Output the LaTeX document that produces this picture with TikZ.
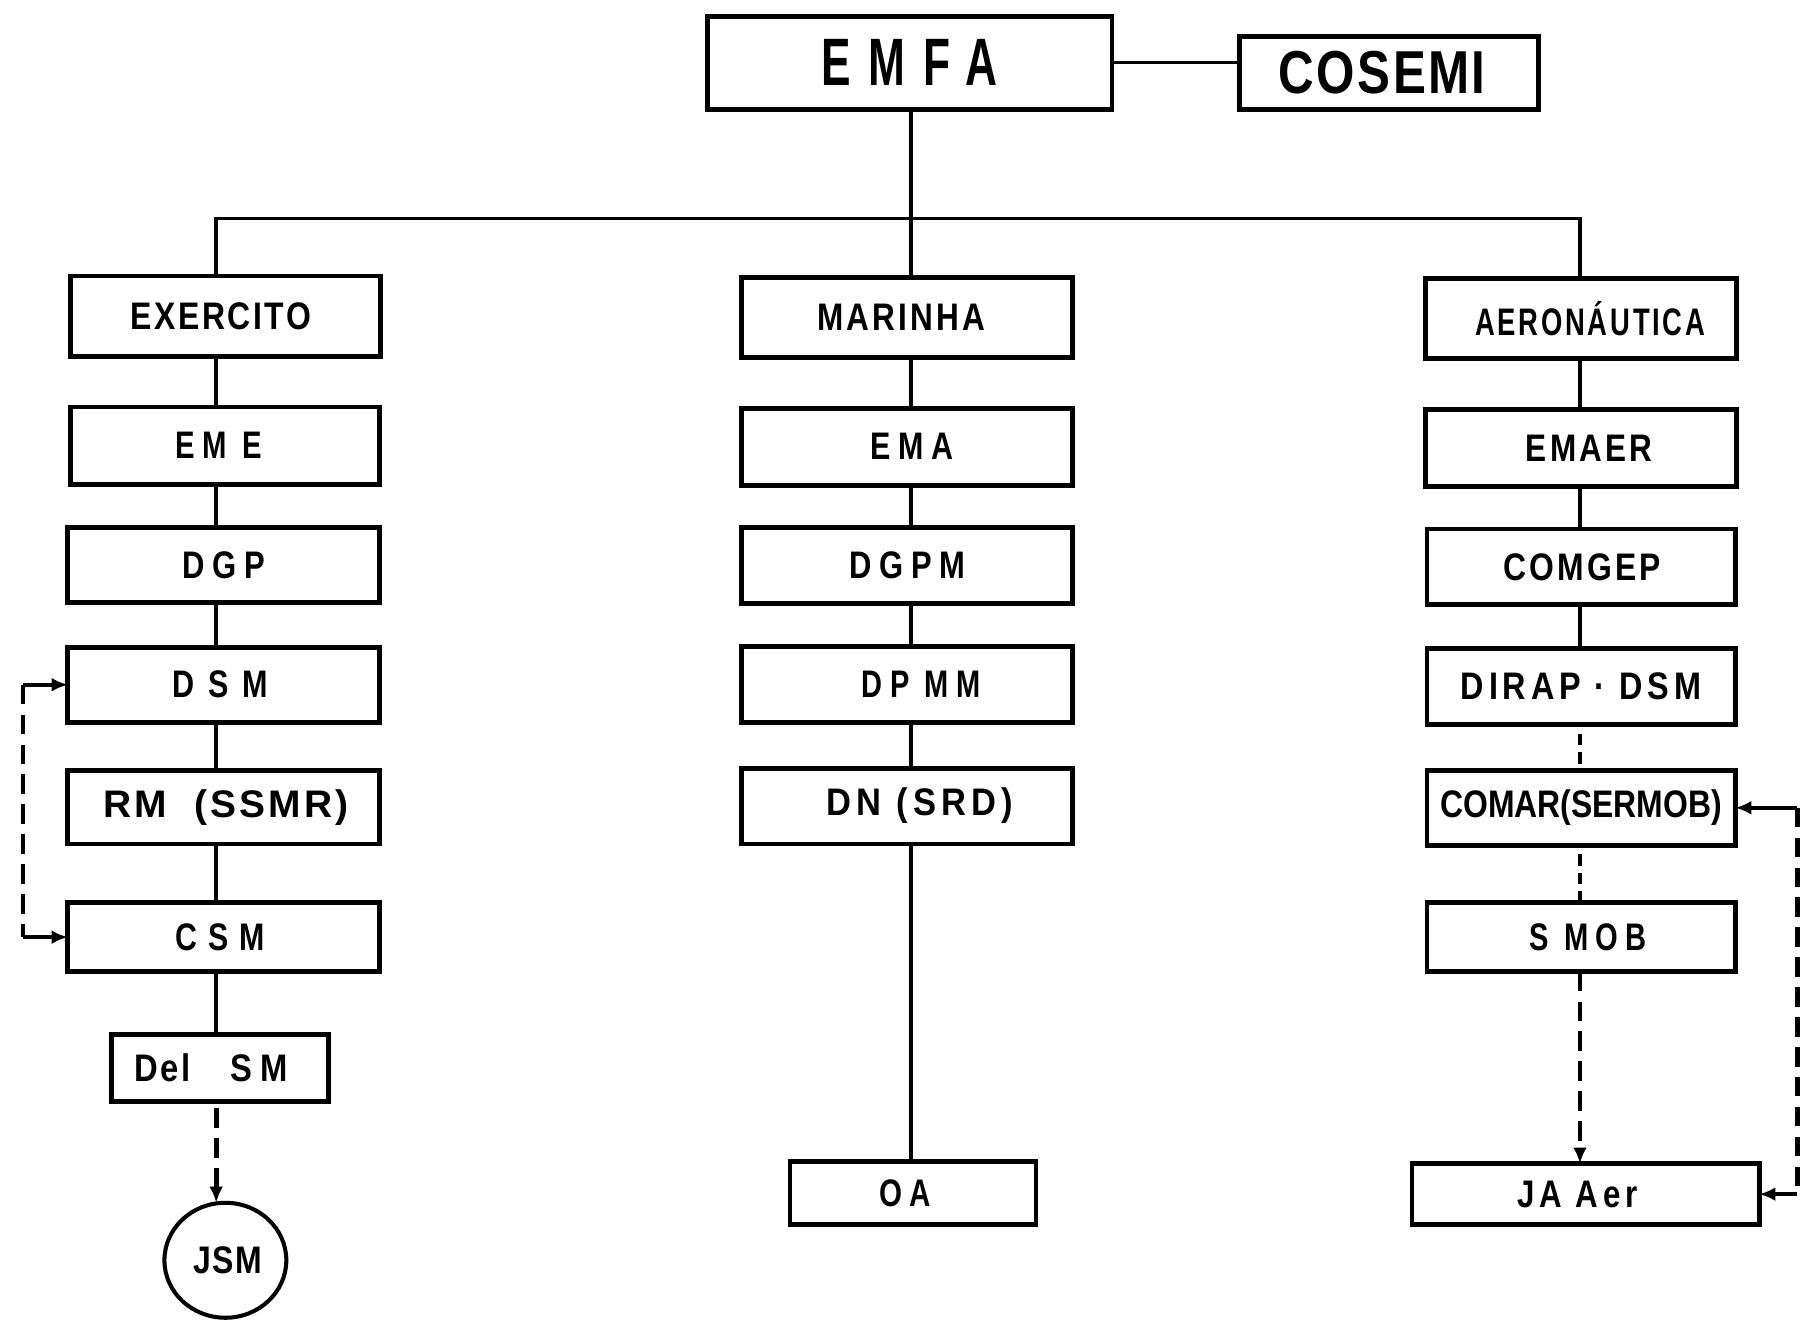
\documentclass[tikz,border=0pt]{standalone}
\usepackage{fontspec}
\setmainfont{Liberation Sans}
\usetikzlibrary{arrows.meta,shapes.geometric}
% \lbl{letterspace}{width}{xshift}{text}
\newcommand\lbl[4]{\hspace*{#3}\resizebox{#2}{\height}{\addfontfeature{LetterSpace=#1}#4}\hspace*{-#3}}
\begin{document}
\begin{tikzpicture}[
  box/.style={draw, line width=1.2pt, fill=white, inner sep=0pt, outer sep=0pt,
    font=\fontsize{9.5}{11}\selectfont\bfseries},
  conn/.style={line width=0.9pt},
  dconn/.style={line width=1.2pt, dash pattern=on 0.17cm off 0.09cm},
  arr/.style={-{Latex[length=0.14cm,width=0.12cm]}}
]
\useasboundingbox (0,0) rectangle (15.68,-11.549);

% top
\node[box, minimum width=3.52cm, minimum height=0.81cm, font=\fontsize{16.6}{18}\selectfont\bfseries] (EMFA) at (7.91,-0.545) {\raisebox{-0.03cm}{\lbl{40}{1.53cm}{0cm}{EMFA}}};
\node[box, minimum width=2.60cm, minimum height=0.63cm, font=\fontsize{15}{17}\selectfont\bfseries] (COSEMI) at (12.08,-0.635) {\lbl{5}{1.80cm}{-0.06cm}{COSEMI}};

% left column
\node[box, minimum width=2.70cm, minimum height=0.70cm] (EXE) at (1.96,-2.75) {\lbl{8}{1.57cm}{-0.04cm}{EXERCITO}};
\node[box, minimum width=2.69cm, minimum height=0.67cm] (EME) at (1.955,-3.875) {\lbl{25}{0.75cm}{-0.05cm}{EM E}};
\node[box, minimum width=2.71cm, minimum height=0.65cm] (DGP) at (1.945,-4.915) {\lbl{25}{0.72cm}{0cm}{DGP}};
\node[box, minimum width=2.71cm, minimum height=0.65cm] (DSM) at (1.945,-5.955) {\lbl{45}{0.83cm}{-0.03cm}{DSM}};
\node[box, minimum width=2.71cm, minimum height=0.64cm] (RM) at (1.945,-7.02) {\lbl{8}{2.13cm}{0.02cm}{RM\hspace{0.7em}(SSMR)}};
\node[box, minimum width=2.71cm, minimum height=0.60cm] (CSM) at (1.945,-8.15) {\lbl{35}{0.77cm}{-0.03cm}{CSM}};
\node[box, minimum width=1.89cm, minimum height=0.58cm] (DEL) at (1.915,-9.29) {\lbl{8}{1.33cm}{-0.08cm}{Del\hspace{1.2em}S\hspace{0.25em}M}};
\node[box, ellipse, line width=1pt, minimum width=1.06cm, minimum height=1.00cm] (JSM) at (1.96,-10.96) {\lbl{5}{0.60cm}{0.02cm}{JSM}};

% middle column
\node[box, minimum width=2.88cm, minimum height=0.70cm] (MAR) at (7.89,-2.76) {\lbl{10}{1.46cm}{-0.05cm}{MARINHA}};
\node[box, minimum width=2.88cm, minimum height=0.67cm] (EMA) at (7.89,-3.885) {\lbl{25}{0.72cm}{0.04cm}{EMA}};
\node[box, minimum width=2.88cm, minimum height=0.66cm] (DGPM) at (7.89,-4.92) {\lbl{25}{1.01cm}{0cm}{DGPM}};
\node[box, minimum width=2.88cm, minimum height=0.66cm] (DPMM) at (7.89,-5.95) {\lbl{25}{1.03cm}{0.12cm}{DP MM}};
\node[box, minimum width=2.88cm, minimum height=0.66cm] (DN) at (7.89,-7.01) {\lbl{15}{1.62cm}{0.11cm}{DN (SRD)}};
\node[box, minimum width=2.14cm, minimum height=0.55cm] (OA) at (7.94,-10.375) {\lbl{25}{0.45cm}{-0.07cm}{OA}};

% right column
\node[box, minimum width=2.70cm, minimum height=0.70cm] (AER) at (13.75,-2.77) {\lbl{10}{2.00cm}{0.08cm}{AERONÁUTICA}};
\node[box, minimum width=2.70cm, minimum height=0.67cm] (EMAER) at (13.75,-3.895) {\lbl{10}{1.10cm}{0.07cm}{EMAER}};
\node[box, minimum width=2.68cm, minimum height=0.66cm] (COMGEP) at (13.75,-4.93) {\lbl{10}{1.37cm}{0.01cm}{COMGEP}};
\node[box, minimum width=2.68cm, minimum height=0.66cm] (DIRAP) at (13.75,-5.97) {\lbl{15}{2.09cm}{0cm}{DIRAP · DSM}};
\node[box, minimum width=2.68cm, minimum height=0.65cm] (COMAR) at (13.75,-7.025) {\lbl{0}{2.45cm}{0cm}{COMAR(SERMOB)}};
\node[box, minimum width=2.68cm, minimum height=0.60cm] (SMOB) at (13.75,-8.15) {\lbl{25}{1.02cm}{0.06cm}{S MOB}};
\node[box, minimum width=3.02cm, minimum height=0.53cm] (JAA) at (13.79,-10.385) {\lbl{15}{1.04cm}{-0.07cm}{JA Aer}};

% reference coordinates
\coordinate (busL) at (1.88,-1.90);
\coordinate (busR) at (13.74,-1.90);
\coordinate (M) at (7.92,0);
\coordinate (LL) at (0.20,0);
\coordinate (RR) at (15.63,0);

% top connectors
\draw[conn] (EMFA.east) -- (EMFA.east -| COSEMI.west);
\draw[conn] (EMFA.south -| M) -- (MAR.north -| M);
\draw[conn, line join=miter] (EXE.north -| busL) -- (busL) -- (busR) -- (AER.north -| busR);

% left chain
\foreach \a/\b in {EXE/EME,EME/DGP,DGP/DSM,DSM/RM,RM/CSM,CSM/DEL}
  \draw[conn] (\a.south -| busL) -- (\b.north -| busL);
\draw[dconn,arr] ([yshift=-0.06cm]DEL.south -| busL) -- (JSM.north -| busL);

% middle chain
\foreach \a/\b in {MAR/EMA,EMA/DGPM,DGPM/DPMM,DPMM/DN,DN/OA}
  \draw[conn] (\a.south -| M) -- (\b.north -| M);

% right chain
\foreach \a/\b in {AER/EMAER,EMAER/COMGEP,COMGEP/DIRAP}
  \draw[conn] (\a.south -| busR) -- (\b.north -| busR);
\draw[dconn, dash pattern=on 0.1cm off 0.06cm] ([yshift=-0.08cm]DIRAP.south -| busR) -- (COMAR.north -| busR);
\draw[dconn, dash pattern=on 0.1cm off 0.06cm] ([yshift=-0.08cm]COMAR.south -| busR) -- (SMOB.north -| busR);
\draw[dconn,arr] (SMOB.south -| busR) -- (JAA.north -| busR);

% left loop
\coordinate (lA) at (DSM.west -| LL);
\coordinate (lB) at (CSM.west -| LL);
\draw[conn,arr] (lA) -- (DSM.west);
\draw[dconn] (lA) -- (lB);
\draw[conn,arr] (lB) -- (CSM.west);

% right loop
\coordinate (rA) at (COMAR.east -| RR);
\coordinate (rB) at (JAA.east -| RR);
\draw[conn,arr] (rA) -- (COMAR.east);
\draw[dconn] (rA) -- (rB);
\draw[conn,arr] (rB) -- (JAA.east);
\end{tikzpicture}
\end{document}
